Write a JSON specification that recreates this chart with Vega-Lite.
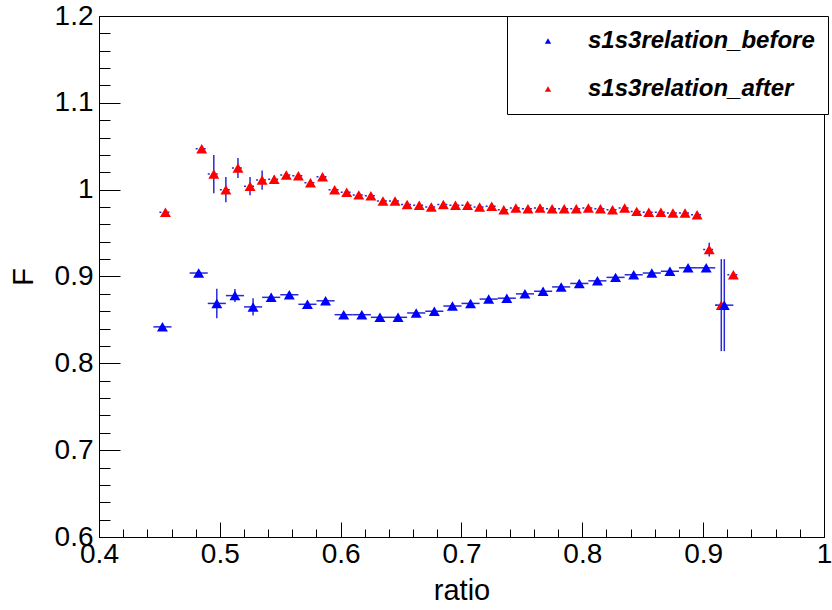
{
  "$schema": "https://vega.github.io/schema/vega-lite/v6.json",
  "width": 725,
  "height": 521,
  "autosize": {"type": "none"},
  "padding": {"left": 99, "top": 16, "right": 8, "bottom": 73},
  "background": "white",
  "config": {
    "view": {"stroke": "black", "strokeWidth": 1},
    "axis": {
      "labelFont": "Liberation Sans",
      "titleFont": "Liberation Sans",
      "labelColor": "black",
      "titleColor": "black",
      "labelFontSize": 28,
      "titleFontSize": 29,
      "titleFontWeight": "normal",
      "domainColor": "black",
      "tickColor": "black",
      "labelFlush": false,
      "labelOverlap": false,
      "grid": false
    }
  },
  "data": {
    "values": [
      {"s": "s1s3relation_after", "x": 0.455, "y": 0.974, "ex": 0.005, "ey": 0},
      {"s": "s1s3relation_after", "x": 0.485, "y": 1.047, "ex": 0.005, "ey": 0},
      {"s": "s1s3relation_after", "x": 0.495, "y": 1.018, "ex": 0.005, "ey": 0.022},
      {"s": "s1s3relation_after", "x": 0.505, "y": 1.000, "ex": 0.005, "ey": 0.0145},
      {"s": "s1s3relation_after", "x": 0.515, "y": 1.025, "ex": 0.005, "ey": 0.0115},
      {"s": "s1s3relation_after", "x": 0.525, "y": 1.004, "ex": 0.005, "ey": 0.0105},
      {"s": "s1s3relation_after", "x": 0.535, "y": 1.011, "ex": 0.005, "ey": 0.011},
      {"s": "s1s3relation_after", "x": 0.545, "y": 1.012, "ex": 0.005, "ey": 0.004},
      {"s": "s1s3relation_after", "x": 0.555, "y": 1.017, "ex": 0.005, "ey": 0.003},
      {"s": "s1s3relation_after", "x": 0.565, "y": 1.016, "ex": 0.005, "ey": 0.003},
      {"s": "s1s3relation_after", "x": 0.575, "y": 1.008, "ex": 0.005, "ey": 0.003},
      {"s": "s1s3relation_after", "x": 0.585, "y": 1.015, "ex": 0.005, "ey": 0.003},
      {"s": "s1s3relation_after", "x": 0.595, "y": 1.000, "ex": 0.005, "ey": 0.002},
      {"s": "s1s3relation_after", "x": 0.605, "y": 0.997, "ex": 0.005, "ey": 0.002},
      {"s": "s1s3relation_after", "x": 0.615, "y": 0.994, "ex": 0.005, "ey": 0.002},
      {"s": "s1s3relation_after", "x": 0.625, "y": 0.993, "ex": 0.005, "ey": 0.002},
      {"s": "s1s3relation_after", "x": 0.635, "y": 0.987, "ex": 0.005, "ey": 0.002},
      {"s": "s1s3relation_after", "x": 0.645, "y": 0.987, "ex": 0.005, "ey": 0.002},
      {"s": "s1s3relation_after", "x": 0.655, "y": 0.983, "ex": 0.005, "ey": 0.002},
      {"s": "s1s3relation_after", "x": 0.665, "y": 0.982, "ex": 0.005, "ey": 0.002},
      {"s": "s1s3relation_after", "x": 0.675, "y": 0.980, "ex": 0.005, "ey": 0.002},
      {"s": "s1s3relation_after", "x": 0.685, "y": 0.983, "ex": 0.005, "ey": 0.002},
      {"s": "s1s3relation_after", "x": 0.695, "y": 0.982, "ex": 0.005, "ey": 0.002},
      {"s": "s1s3relation_after", "x": 0.705, "y": 0.982, "ex": 0.005, "ey": 0.002},
      {"s": "s1s3relation_after", "x": 0.715, "y": 0.980, "ex": 0.005, "ey": 0.002},
      {"s": "s1s3relation_after", "x": 0.725, "y": 0.981, "ex": 0.005, "ey": 0.002},
      {"s": "s1s3relation_after", "x": 0.735, "y": 0.977, "ex": 0.005, "ey": 0.002},
      {"s": "s1s3relation_after", "x": 0.745, "y": 0.979, "ex": 0.005, "ey": 0.002},
      {"s": "s1s3relation_after", "x": 0.755, "y": 0.978, "ex": 0.005, "ey": 0.002},
      {"s": "s1s3relation_after", "x": 0.765, "y": 0.979, "ex": 0.005, "ey": 0.002},
      {"s": "s1s3relation_after", "x": 0.775, "y": 0.978, "ex": 0.005, "ey": 0.002},
      {"s": "s1s3relation_after", "x": 0.785, "y": 0.978, "ex": 0.005, "ey": 0.002},
      {"s": "s1s3relation_after", "x": 0.795, "y": 0.978, "ex": 0.005, "ey": 0.002},
      {"s": "s1s3relation_after", "x": 0.805, "y": 0.979, "ex": 0.005, "ey": 0.002},
      {"s": "s1s3relation_after", "x": 0.815, "y": 0.978, "ex": 0.005, "ey": 0.002},
      {"s": "s1s3relation_after", "x": 0.825, "y": 0.977, "ex": 0.005, "ey": 0.002},
      {"s": "s1s3relation_after", "x": 0.835, "y": 0.979, "ex": 0.005, "ey": 0.002},
      {"s": "s1s3relation_after", "x": 0.845, "y": 0.975, "ex": 0.005, "ey": 0.002},
      {"s": "s1s3relation_after", "x": 0.855, "y": 0.974, "ex": 0.005, "ey": 0.002},
      {"s": "s1s3relation_after", "x": 0.865, "y": 0.974, "ex": 0.005, "ey": 0.002},
      {"s": "s1s3relation_after", "x": 0.875, "y": 0.973, "ex": 0.005, "ey": 0.002},
      {"s": "s1s3relation_after", "x": 0.885, "y": 0.973, "ex": 0.005, "ey": 0.002},
      {"s": "s1s3relation_after", "x": 0.895, "y": 0.971, "ex": 0.005, "ey": 0.002},
      {"s": "s1s3relation_after", "x": 0.905, "y": 0.931, "ex": 0.005, "ey": 0.008},
      {"s": "s1s3relation_after", "x": 0.915, "y": 0.867, "ex": 0.005, "ey": 0.053},
      {"s": "s1s3relation_after", "x": 0.925, "y": 0.902, "ex": 0.005, "ey": 0.003},
      {"s": "s1s3relation_before", "x": 0.4525, "y": 0.842, "ex": 0.0075, "ey": 0.002},
      {"s": "s1s3relation_before", "x": 0.4825, "y": 0.904, "ex": 0.0075, "ey": 0.003},
      {"s": "s1s3relation_before", "x": 0.4975, "y": 0.869, "ex": 0.0075, "ey": 0.017},
      {"s": "s1s3relation_before", "x": 0.5125, "y": 0.878, "ex": 0.0075, "ey": 0.0075},
      {"s": "s1s3relation_before", "x": 0.5275, "y": 0.865, "ex": 0.0075, "ey": 0.01},
      {"s": "s1s3relation_before", "x": 0.5425, "y": 0.876, "ex": 0.0075, "ey": 0.004},
      {"s": "s1s3relation_before", "x": 0.5575, "y": 0.879, "ex": 0.0075, "ey": 0.003},
      {"s": "s1s3relation_before", "x": 0.5725, "y": 0.868, "ex": 0.0075, "ey": 0.003},
      {"s": "s1s3relation_before", "x": 0.5875, "y": 0.872, "ex": 0.0075, "ey": 0.003},
      {"s": "s1s3relation_before", "x": 0.6025, "y": 0.856, "ex": 0.0075, "ey": 0.003},
      {"s": "s1s3relation_before", "x": 0.6175, "y": 0.856, "ex": 0.0075, "ey": 0.002},
      {"s": "s1s3relation_before", "x": 0.6325, "y": 0.853, "ex": 0.0075, "ey": 0.002},
      {"s": "s1s3relation_before", "x": 0.6475, "y": 0.853, "ex": 0.0075, "ey": 0.002},
      {"s": "s1s3relation_before", "x": 0.6625, "y": 0.858, "ex": 0.0075, "ey": 0.002},
      {"s": "s1s3relation_before", "x": 0.6775, "y": 0.860, "ex": 0.0075, "ey": 0.002},
      {"s": "s1s3relation_before", "x": 0.6925, "y": 0.866, "ex": 0.0075, "ey": 0.002},
      {"s": "s1s3relation_before", "x": 0.7075, "y": 0.869, "ex": 0.0075, "ey": 0.002},
      {"s": "s1s3relation_before", "x": 0.7225, "y": 0.874, "ex": 0.0075, "ey": 0.002},
      {"s": "s1s3relation_before", "x": 0.7375, "y": 0.875, "ex": 0.0075, "ey": 0.002},
      {"s": "s1s3relation_before", "x": 0.7525, "y": 0.880, "ex": 0.0075, "ey": 0.002},
      {"s": "s1s3relation_before", "x": 0.7675, "y": 0.883, "ex": 0.0075, "ey": 0.002},
      {"s": "s1s3relation_before", "x": 0.7825, "y": 0.888, "ex": 0.0075, "ey": 0.002},
      {"s": "s1s3relation_before", "x": 0.7975, "y": 0.892, "ex": 0.0075, "ey": 0.002},
      {"s": "s1s3relation_before", "x": 0.8125, "y": 0.895, "ex": 0.0075, "ey": 0.002},
      {"s": "s1s3relation_before", "x": 0.8275, "y": 0.899, "ex": 0.0075, "ey": 0.002},
      {"s": "s1s3relation_before", "x": 0.8425, "y": 0.902, "ex": 0.0075, "ey": 0.002},
      {"s": "s1s3relation_before", "x": 0.8575, "y": 0.904, "ex": 0.0075, "ey": 0.002},
      {"s": "s1s3relation_before", "x": 0.8725, "y": 0.906, "ex": 0.0075, "ey": 0.002},
      {"s": "s1s3relation_before", "x": 0.8875, "y": 0.910, "ex": 0.0075, "ey": 0.002},
      {"s": "s1s3relation_before", "x": 0.9025, "y": 0.910, "ex": 0.0075, "ey": 0.003},
      {"s": "s1s3relation_before", "x": 0.9175, "y": 0.867, "ex": 0.0075, "ey": 0.053}
    ]
  },
  "resolve": {"axis": {"x": "independent", "y": "independent"}},
  "layer": [
    {
      "mark": {"type": "point", "opacity": 0},
      "encoding": {
        "x": {"field": "x", "type": "quantitative",
          "scale": {"domain": [0.4, 1.0], "nice": false, "zero": false},
          "axis": {"orient": "bottom", "values": [0.42,0.44,0.46,0.48,0.52,0.54,0.56,0.58,0.62,0.64,0.66,0.68,0.72,0.74,0.76,0.78,0.82,0.84,0.86,0.88,0.92,0.94,0.96,0.98],
            "labels": false, "domain": false, "tickSize": -8, "title": null}},
        "y": {"field": "y", "type": "quantitative",
          "scale": {"domain": [0.6, 1.2], "nice": false, "zero": false},
          "axis": {"orient": "left", "values": [0.62,0.64,0.66,0.68,0.72,0.74,0.76,0.78,0.82,0.84,0.86,0.88,0.92,0.94,0.96,0.98,1.02,1.04,1.06,1.08,1.12,1.14,1.16,1.18],
            "labels": false, "domain": false, "tickSize": -11, "title": null}}
      }
    },
    {
      "transform": [{"filter": "datum.s == 's1s3relation_after'"}],
      "mark": {"type": "errorbar", "orient": "horizontal", "color": "#2a2ad4", "rule": {"strokeDash": [2, 2], "strokeWidth": 1.5}},
      "encoding": {
        "x": {"field": "x", "type": "quantitative", "axis": null},
        "xError": {"field": "ex"},
        "y": {"field": "y", "type": "quantitative", "axis": null}
      }
    },
    {
      "transform": [{"filter": "datum.s == 's1s3relation_before'"}],
      "mark": {"type": "errorbar", "orient": "horizontal", "color": "#2a2ad4", "rule": {"strokeWidth": 1.5}},
      "encoding": {
        "x": {"field": "x", "type": "quantitative", "axis": null},
        "xError": {"field": "ex"},
        "y": {"field": "y", "type": "quantitative", "axis": null}
      }
    },
    {
      "mark": {"type": "errorbar", "orient": "vertical", "color": "#2a2ad4", "rule": {"strokeWidth": 1.5}},
      "encoding": {
        "x": {"field": "x", "type": "quantitative", "axis": null},
        "y": {"field": "y", "type": "quantitative", "axis": null},
        "yError": {"field": "ey"}
      }
    },
    {
      "mark": {"type": "point", "shape": "triangle-up", "filled": true, "size": 120, "opacity": 1},
      "encoding": {
        "x": {"field": "x", "type": "quantitative",
          "axis": {"orient": "bottom", "values": [0.4,0.5,0.6,0.7,0.8,0.9,1.0], "format": "~g", "tickSize": -15, "labelPadding": 18, "title": "ratio", "titlePadding": 8}},
        "y": {"field": "y", "type": "quantitative",
          "axis": {"orient": "left", "values": [0.6,0.7,0.8,0.9,1.0,1.1,1.2], "format": "~g", "tickSize": -21, "labelPadding": 27, "title": "F", "titlePadding": 16}},
        "color": {"field": "s", "type": "nominal",
          "scale": {"domain": ["s1s3relation_before", "s1s3relation_after"], "range": ["#0000ff", "#ff0000"]},
          "legend": {
            "title": null, "orient": "none", "legendX": 408, "legendY": 0,
            "symbolType": "triangle-up", "symbolSize": 40, "symbolStrokeWidth": 0,
            "labelFont": "Liberation Sans", "labelFontStyle": "italic", "labelFontWeight": "bold",
            "labelFontSize": 24, "labelColor": "black", "labelLimit": 400,
            "strokeColor": "black", "fillColor": "white", "padding": 13,
            "rowPadding": 24, "symbolOffset": 16, "labelOffset": 28
          }}
      }
    }
  ]
}
